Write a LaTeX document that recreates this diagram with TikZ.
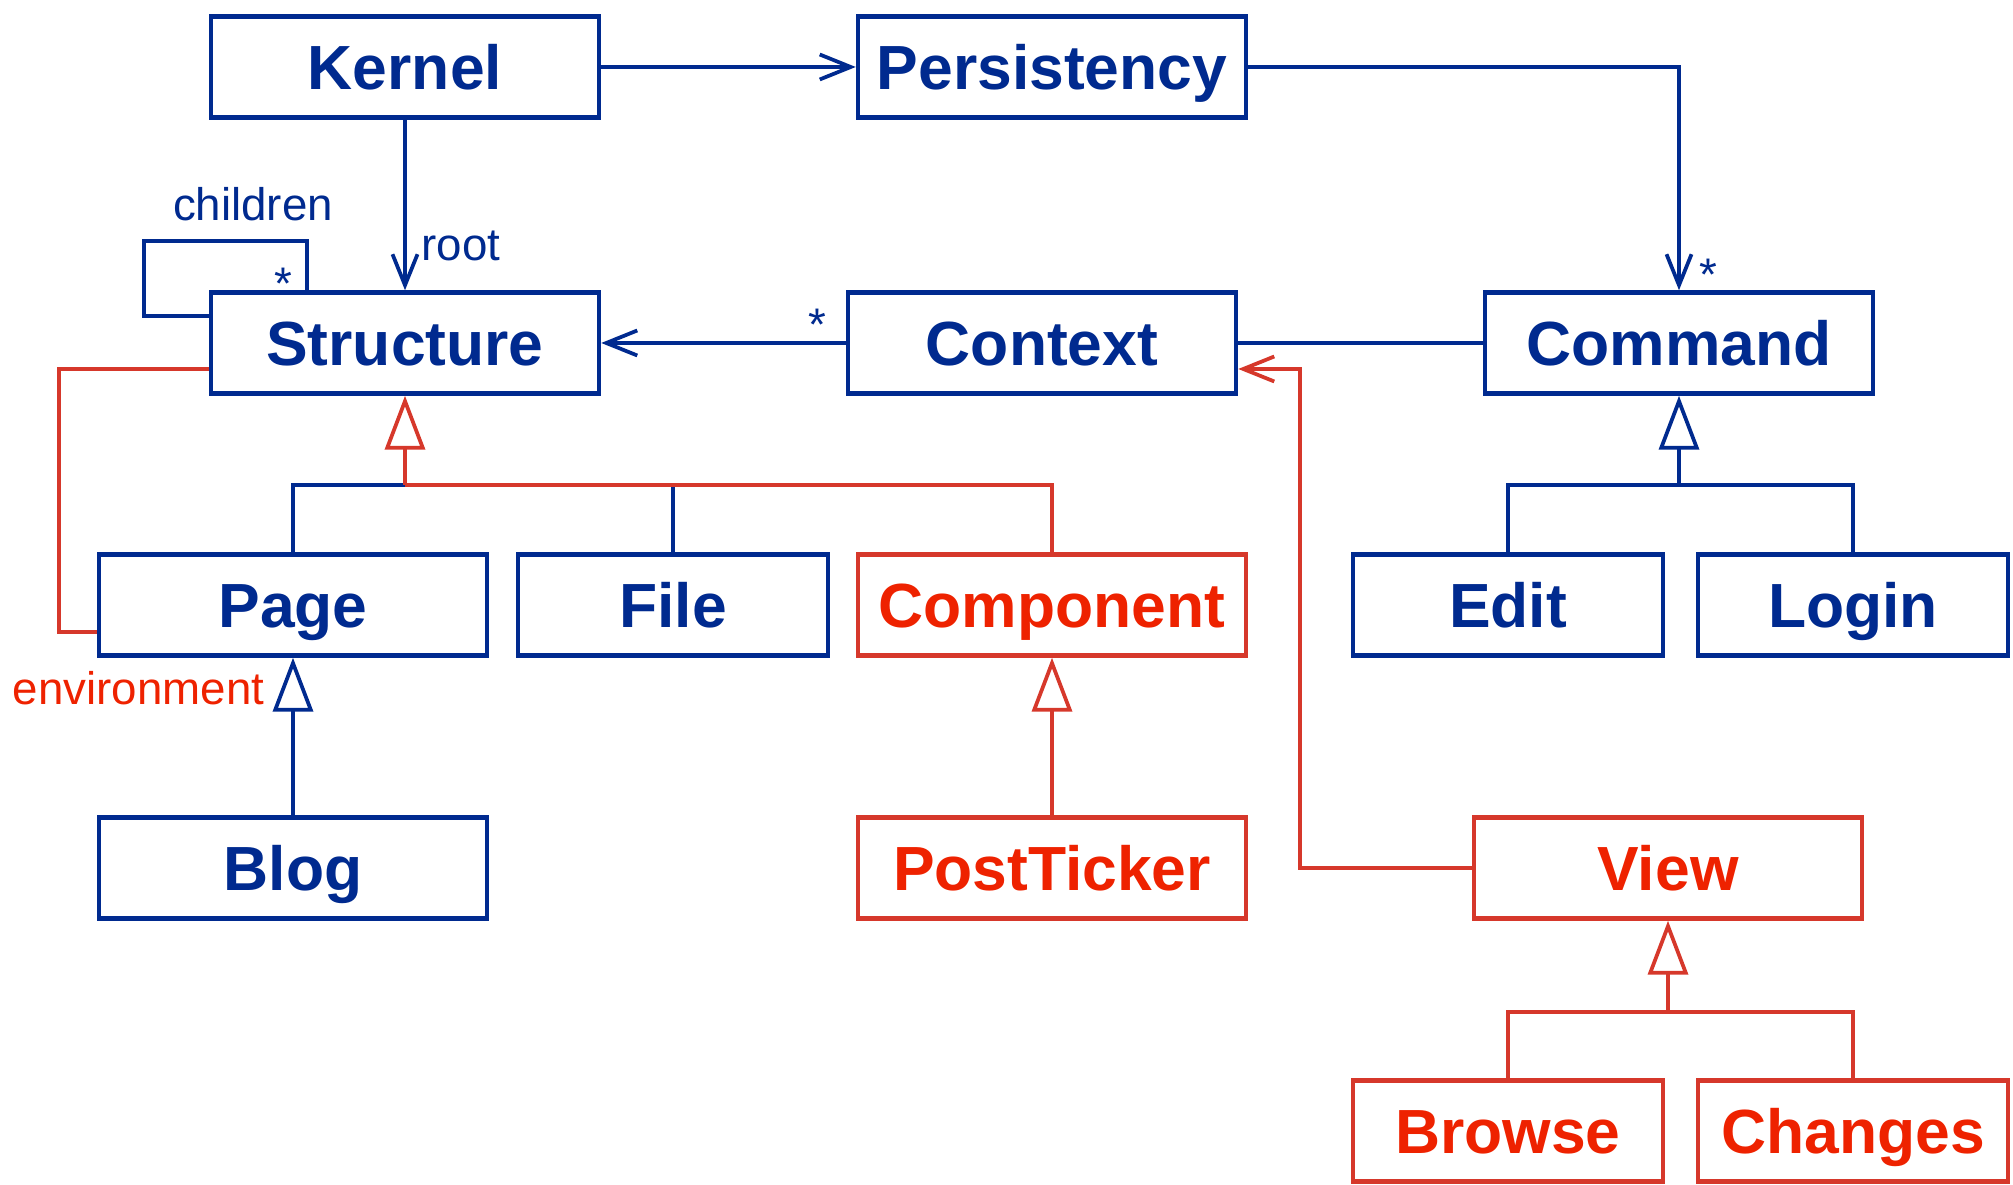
\documentclass[tikz,border=0pt]{standalone}
\usepackage{fontspec}
\setmainfont{Liberation Sans}
\usepackage{xcolor}
\usetikzlibrary{arrows.meta}

\definecolor{umlblue}{RGB}{0,42,143}
\definecolor{umlred}{RGB}{214,56,43}
\definecolor{umlredtxt}{RGB}{238,34,0}

\begin{document}
\begin{tikzpicture}[
		box/.style={
			draw,
			line width=.09cm,
			minimum height=2.02cm,
			inner sep=0pt,
			text height=.9cm,
			text depth=0cm,
			font=\fontsize{35.5}{40}\selectfont\bfseries,
		},
		wbox/.style={box, minimum width=7.76cm},
		nbox/.style={box, minimum width=6.2cm},
		blu/.style={draw=umlblue, text=umlblue},
		rd/.style={draw=umlred, text=umlredtxt},
		bline/.style={draw=umlblue, line width=.075cm},
		rline/.style={draw=umlred, line width=.075cm},
		assoc/.style={-{Straight Barb[length=.62cm, width=.5cm]}},
		inherit/.style={-{Triangle[open, length=1.08cm, width=.8cm]}},
		lbl/.style={anchor=base, font=\fontsize{26}{30}\selectfont},
	]
		\useasboundingbox (0,0) rectangle (40.26,23.7);
		\def\ya{22.36}; \def\yb{16.84}; \def\yc{11.60}; \def\yd{6.34}; \def\ye{1.08};
		
		% classes
		\node[wbox,blu] (Kernel) at (8.10,\ya) {Kernel};
		\node[wbox,blu] (Persistency) at (21.04,\ya) {Persistency};
		
		\node[wbox,blu] (Structure) at (8.10,\yb) {Structure};
		\node[wbox,blu] (Context) at (20.84,\yb) {Context};
		\node[wbox,blu] (Command) at (33.58,\yb) {Command};
		
		\node[wbox,blu] (Page) at (5.86,\yc) {Page};
		\node[nbox,blu] (File) at (13.46,\yc) {File};
		\node[wbox,rd] (Component) at (21.04,\yc) {Component};
		\node[nbox,blu] (Edit) at (30.16,\yc) {Edit};
		\node[nbox,blu] (Login) at (37.06,\yc) {Login};
		
		\node[wbox,blu] (Blog) at (5.86,\yd) {Blog};
		\node[wbox,rd] (PostTicker) at (21.04,\yd) {PostTicker};
		\node[wbox,rd] (View) at (33.36,\yd) {View};
		
		\node[nbox,rd] (Browse) at (30.16,\ye) {Browse};
		\node[nbox,rd] (Changes) at (37.06,\ye) {Changes};
		
		% associations
		\draw[bline,assoc] (Kernel) -- (Persistency);
		\draw[bline,assoc] (Persistency.east) -| (Command.north);
		\node[lbl,text=umlblue] (cmdstar) at (34.16,17.88) {*};
		
		\draw[bline,assoc] (Kernel) -- (Structure);
		\node[lbl,text=umlblue] (rootlbl) at (9.22,18.48) {root};
		
		\draw[bline,assoc] (Context) -- (Structure);
		\node[lbl,text=umlblue] (ctxstar) at (16.34,16.88) {*};
		\draw[bline] (Context) -- (Command);
		
		\coordinate (loopL) at (2.88,18.88);
		\coordinate (loopR) at (6.14,18.88);
		\draw[bline] ([yshift=.54cm]Structure.west) -| (loopL) -- (loopR) -- (loopR |- Structure.north);
		\node[lbl,text=umlblue] (childrenlbl) at (5.06,19.28) {children};
		\node[lbl,text=umlblue] (loopstar) at (5.66,17.7) {*};
		
		\coordinate (envT) at (1.18,16.32);
		\draw[rline] ([yshift=-.52cm]Structure.west) -- (envT) |- ([yshift=-.54cm]Page.west);
		\node[lbl,text=umlredtxt] (envlbl) at (2.77,9.6) {environment};
		
		\coordinate (viewT) at (26.0,16.32);
		\draw[rline,assoc] (View.west) -| (viewT) -- ([yshift=-.52cm]Context.east);
		
		% generalizations
		\coordinate (sj) at (8.10,14.0);
		\draw[bline] (Page.north) |- (sj);
		\draw[bline] (File.north) -- (File.north |- sj);
		\draw[rline] (Component.north) |- (sj);
		\draw[rline,inherit] (sj) -- (Structure.south);
		
		\draw[bline,inherit] (Blog) -- (Page);
		\draw[rline,inherit] (PostTicker) -- (Component);
		
		\coordinate (cj) at (33.58,14.0);
		\draw[bline] (Edit.north) |- (cj) -| (Login.north);
		\draw[bline,inherit] (cj) -- (Command.south);
		
		\coordinate (vj) at (33.36,3.46);
		\draw[rline] (Browse.north) |- (vj) -| (Changes.north);
		\draw[rline,inherit] (vj) -- (View.south);
		
	\end{tikzpicture}
\end{document}
